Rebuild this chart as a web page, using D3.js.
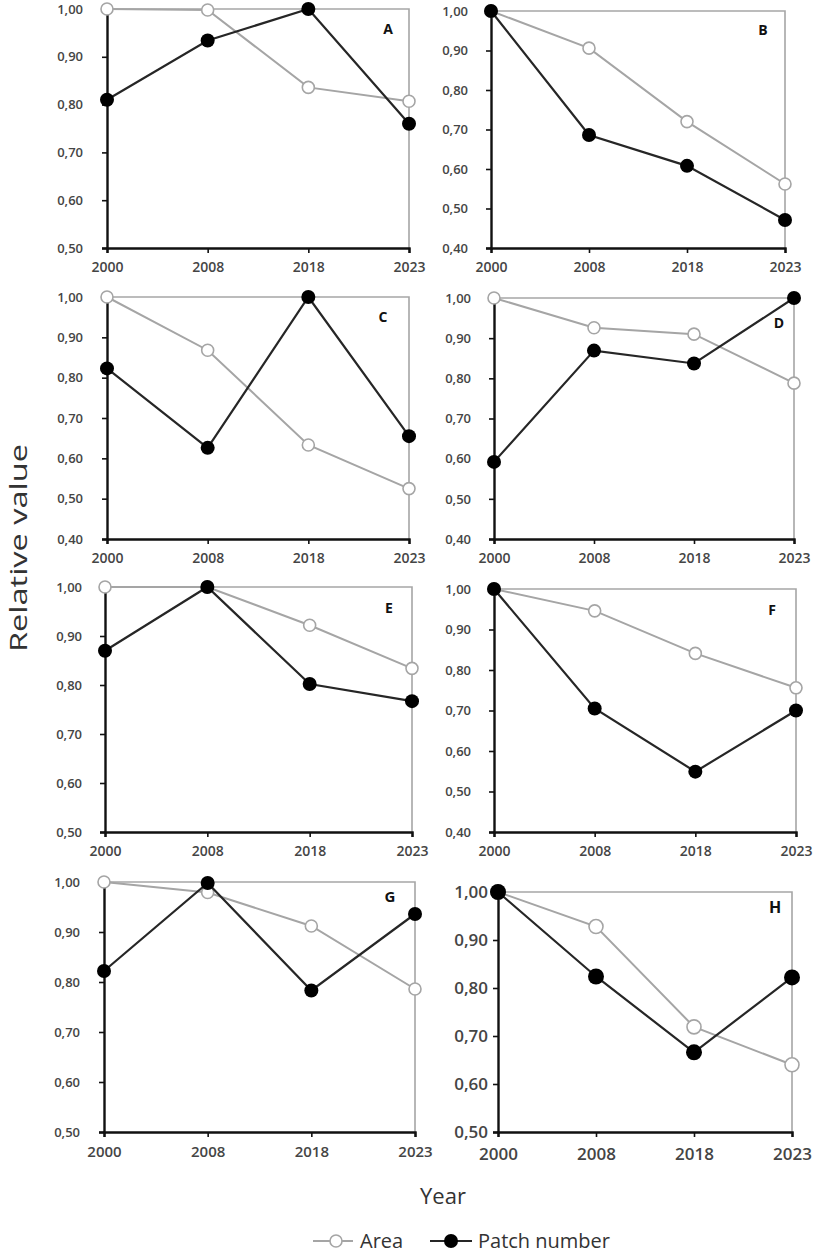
<!DOCTYPE html>
<html>
<head>
<meta charset="utf-8">
<script src="https://cdn.jsdelivr.net/npm/d3@7"></script>
<style>
  html, body { margin: 0; padding: 0; background: #fff; }
  svg { display: block; }
</style>
</head>
<body>
<svg id="chart" width="816" height="1256"></svg>
<script>
// ---------- data ----------
const years = ["2000", "2008", "2018", "2023"];
const panelLetters = ["A", "B", "C", "D", "E", "F", "G", "H"];
const yMin = [0.5, 0.4, 0.4, 0.4, 0.5, 0.4, 0.5, 0.5];
const ticksFrom05 = [0.5, 0.6, 0.7, 0.8, 0.9, 1.0];
const ticksFrom04 = [0.4, 0.5, 0.6, 0.7, 0.8, 0.9, 1.0];
const areaValues = [
  [1.00, 0.998, 0.836, 0.807],
  [1.00, 0.906, 0.720, 0.562],
  [1.00, 0.868, 0.633, 0.525],
  [1.00, 0.926, 0.910, 0.788],
  [1.00, 1.000, 0.922, 0.834],
  [1.00, 0.946, 0.841, 0.756],
  [1.00, 0.979, 0.912, 0.786],
  [1.00, 0.928, 0.719, 0.640]
];
const patchValues = [
  [0.810, 0.934, 1.000, 0.760],
  [1.000, 0.686, 0.608, 0.471],
  [0.823, 0.626, 1.000, 0.655],
  [0.592, 0.869, 0.837, 1.000],
  [0.870, 1.000, 0.802, 0.767],
  [1.000, 0.705, 0.549, 0.700],
  [0.822, 0.998, 0.783, 0.936],
  [1.000, 0.824, 0.666, 0.822]
];
const seriesNames = ["Area", "Patch number"];
const yTitle = "Relative value";
const xTitle = "Year";

// ---------- layout (positions only) ----------
const boxes = [
  {x0: 107, x1: 409, y0: 9,   y1: 248, lx: 388, ly: 34,  ys: 13, xs: 14, pad: 19, lf: 14},
  {x0: 491, x1: 785, y0: 11,  y1: 248, lx: 763, ly: 35,  ys: 13, xs: 14, pad: 18, lf: 14},
  {x0: 107, x1: 409, y0: 297, y1: 539, lx: 383, ly: 322, ys: 13, xs: 14, pad: 19, lf: 14},
  {x0: 494, x1: 794, y0: 298, y1: 539, lx: 779, ly: 328, ys: 13, xs: 14, pad: 18, lf: 14},
  {x0: 105, x1: 412, y0: 587, y1: 832, lx: 389, ly: 613, ys: 13, xs: 14, pad: 18, lf: 14},
  {x0: 494, x1: 796, y0: 589, y1: 832, lx: 772, ly: 615, ys: 13, xs: 14, pad: 18, lf: 14},
  {x0: 104, x1: 415, y0: 882, y1: 1132, lx: 390, ly: 902, ys: 13, xs: 15, pad: 19, lf: 15},
  {x0: 498, x1: 792, y0: 892, y1: 1132, lx: 775, ly: 913, ys: 17, xs: 17, pad: 5, lf: 16}
];

const fmt = d3.formatLocale({decimal: ",", thousands: ".", grouping: [3], currency: ["", ""]}).format(".2f");
const areaColor = "#a5a5a5";
const patchColor = "#262626";
const tickColor = "#454545";
const fontFam = "'Open Sans', 'Noto Sans', sans-serif";

const svg = d3.select("#chart");

panelLetters.forEach((letter, i) => {
  const b = boxes[i];
  const big = i === 7;
  const x = d3.scalePoint().domain(years).range([b.x0, b.x1]);
  const y = d3.scaleLinear().domain([yMin[i], 1]).range([b.y1, b.y0]);
  const ticks = yMin[i] === 0.5 ? ticksFrom05 : ticksFrom04;
  const g = svg.append("g");

  // frame top & right (grey)
  g.append("path")
    .attr("d", `M${x(years[0])},${y(1)}H${x(years[3])}V${y(yMin[i])}`)
    .attr("fill", "none").attr("stroke", "#a6a6a6").attr("stroke-width", 1.6);

  // y axis
  const yAxis = g.append("g").attr("transform", `translate(${b.x0},0)`)
    .call(d3.axisLeft(y).tickValues(ticks).tickFormat(fmt).tickSize(5).tickPadding(b.pad));
  yAxis.select(".domain").attr("stroke", "#111").attr("stroke-width", 2.4);
  yAxis.selectAll(".tick line").attr("stroke", "#111").attr("stroke-width", 1.6);
  yAxis.selectAll(".tick text")
    .attr("fill", tickColor).attr("font-family", fontFam)
    .attr("font-weight", 600).attr("font-size", b.ys);

  // x axis
  const xAxis = g.append("g").attr("transform", `translate(0,${b.y1})`)
    .call(d3.axisBottom(x).tickSize(5).tickPadding(big ? 11 : 9));
  xAxis.select(".domain").attr("stroke", "#111").attr("stroke-width", 2.4);
  xAxis.selectAll(".tick line").attr("stroke", "#111").attr("stroke-width", 1.6);
  xAxis.selectAll(".tick text")
    .attr("fill", tickColor).attr("font-family", fontFam)
    .attr("font-weight", 600).attr("font-size", b.xs);

  const line = d3.line().x((d, j) => x(years[j])).y(d => y(d));

  // Area series
  g.append("path").datum(areaValues[i]).attr("d", line)
    .attr("fill", "none").attr("stroke", areaColor).attr("stroke-width", 2);
  g.selectAll(".am").data(areaValues[i]).enter().append("circle")
    .attr("cx", (d, j) => x(years[j])).attr("cy", d => y(d))
    .attr("r", big ? 7 : 6).attr("fill", "#fff")
    .attr("stroke", areaColor).attr("stroke-width", 1.6);

  // Patch number series
  g.append("path").datum(patchValues[i]).attr("d", line)
    .attr("fill", "none").attr("stroke", patchColor).attr("stroke-width", 2.2);
  g.selectAll(".pm").data(patchValues[i]).enter().append("circle")
    .attr("cx", (d, j) => x(years[j])).attr("cy", d => y(d))
    .attr("r", big ? 8 : 7).attr("fill", "#000");

  // panel letter
  g.append("text").attr("x", b.lx).attr("y", b.ly)
    .attr("text-anchor", "middle").attr("font-family", fontFam)
    .attr("font-weight", 700).attr("font-size", b.lf).attr("fill", "#111")
    .text(letter);
});

// axis titles
svg.append("text")
  .attr("transform", "translate(27,548) rotate(-90)")
  .attr("text-anchor", "middle").attr("font-family", fontFam)
  .attr("font-size", 24).attr("fill", "#333")
  .attr("textLength", 208).attr("lengthAdjust", "spacingAndGlyphs")
  .text(yTitle);

svg.append("text")
  .attr("x", 443).attr("y", 1204)
  .attr("text-anchor", "middle").attr("font-family", fontFam)
  .attr("font-size", 22).attr("fill", "#333")
  .text(xTitle);

// legend
const legY = 1241;
const leg = svg.append("g");
leg.append("line").attr("x1", 313).attr("x2", 353).attr("y1", legY).attr("y2", legY)
  .attr("stroke", areaColor).attr("stroke-width", 2);
leg.append("circle").attr("cx", 336).attr("cy", legY).attr("r", 6)
  .attr("fill", "#fff").attr("stroke", areaColor).attr("stroke-width", 1.6);
leg.append("text").attr("x", 360).attr("y", legY + 7)
  .attr("font-family", fontFam).attr("font-size", 20).attr("fill", "#333")
  .text(seriesNames[0]);
leg.append("line").attr("x1", 430).attr("x2", 472).attr("y1", legY).attr("y2", legY)
  .attr("stroke", patchColor).attr("stroke-width", 2.2);
leg.append("circle").attr("cx", 451).attr("cy", legY).attr("r", 7).attr("fill", "#000");
leg.append("text").attr("x", 478).attr("y", legY + 7)
  .attr("font-family", fontFam).attr("font-size", 20).attr("fill", "#333")
  .text(seriesNames[1]);
</script>
</body>
</html>
